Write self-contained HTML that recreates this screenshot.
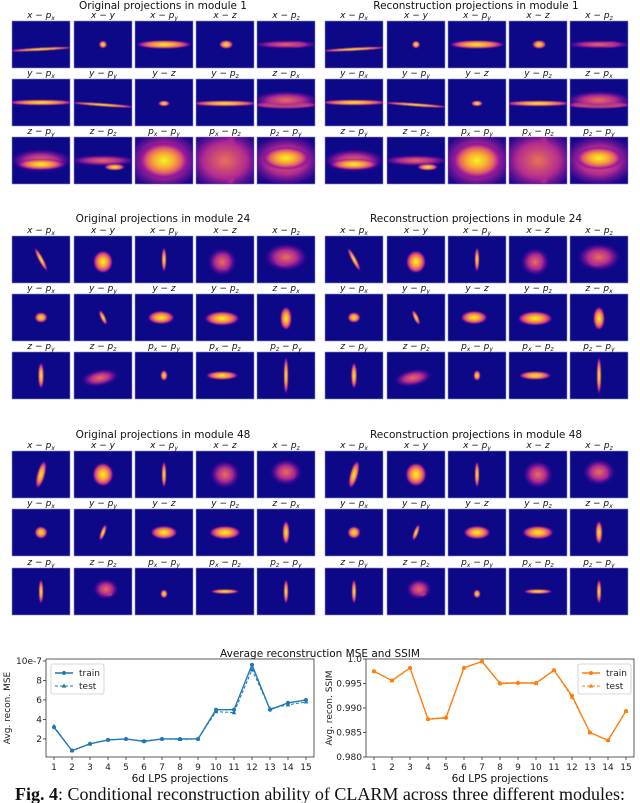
<!DOCTYPE html>
<html><head><meta charset="utf-8">
<style>
body{margin:0;background:#fff;width:640px;height:803px;overflow:hidden;font-family:"DejaVu Sans","Liberation Sans",sans-serif;}
svg{display:block}
.lbl{font-family:"DejaVu Sans",sans-serif;font-size:9px;font-style:italic;fill:#111}
.ttl{font-family:"DejaVu Sans",sans-serif;font-size:10.5px;fill:#111}
.tk{font-family:"DejaVu Sans",sans-serif;font-size:9px;fill:#222}
</style></head>
<body>
<svg id="fig" width="640" height="803" viewBox="0 0 640 803">
<defs>
<radialGradient id="pg" cx="50%" cy="50%" r="50%">
<stop offset="0" stop-color="#f0f921"/>
<stop offset="0.4" stop-color="#fca636"/>
<stop offset="0.65" stop-color="#e16462"/>
<stop offset="0.85" stop-color="#9c179e"/>
<stop offset="1" stop-color="#6a00a8" stop-opacity="0"/>
</radialGradient>
<radialGradient id="pm" cx="50%" cy="50%" r="50%">
<stop offset="0" stop-color="#e97158"/>
<stop offset="0.5" stop-color="#b12a90"/>
<stop offset="1" stop-color="#5c01a6" stop-opacity="0"/>
</radialGradient>
<filter id="bl"><feGaussianBlur stdDeviation="0.6"/></filter>
</defs>
<g id="panels"></g>
<g id="charts"></g>
<text x="320" y="800" text-anchor="middle" style="font-family:'Liberation Serif',serif;font-size:18px" fill="#111"><tspan font-weight="bold">Fig. 4</tspan>: Conditional reconstruction ability of CLARM across three different modules:</text>
</svg>
<script>
const NS="http://www.w3.org/2000/svg";
function mk(t,a,p){const e=document.createElementNS(NS,t);for(const k in a)e.setAttribute(k,a[k]);if(p)p.appendChild(e);return e;}
const labels=[["x","p","x"],["x","y",""],["x","p","y"],["x","z",""],["x","p","z"],["y","p","x"],["y","p","y"],["y","z",""],["y","p","z"],["z","p","x"],["z","p","y"],["z","p","z"],["p_x","p","y"],["p_x","p","z"],["p_z","p","y"]];
const M1=[[[.5,.6,.6,.035,-3,'pg']],[[.5,.5,.07,.08,0,'pg']],[[.5,.5,.48,.09,0,'pg']],[[.52,.5,.12,.09,0,'pg']],[[.5,.5,.6,.09,0,'pm'],[.68,.5,.2,.07,0,'pg']],
[[.5,.5,.6,.06,0,'pg']],[[.5,.55,.6,.035,4,'pg']],[[.5,.52,.1,.06,0,'pg']],[[.5,.52,.6,.06,0,'pg']],[[.5,.45,.6,.2,0,'pm'],[.5,.55,.58,.08,0,'pg']],
[[.5,.58,.42,.12,0,'pg'],[.5,.5,.55,.25,0,'pm']],[[.5,.5,.6,.12,0,'pm'],[.7,.64,.18,.07,0,'pg']],[[.5,.5,.45,.4,0,'pg'],[.5,.5,.7,.7,0,'pm']],[[.5,.5,.75,.75,0,'pm'],[.6,.5,.12,.6,0,'pg']],[[.5,.45,.42,.25,0,'pg'],[.5,.5,.7,.6,0,'pm']]];
const M24=[[[.5,.5,.04,.28,-28,'pg']],[[.5,.55,.17,.24,0,'pg']],[[.5,.5,.04,.26,0,'pg']],[[.45,.55,.25,.3,0,'pm'],[.5,.55,.1,.2,0,'pg']],[[.5,.45,.38,.3,0,'pm'],[.45,.52,.16,.14,0,'pg']],
[[.5,.5,.11,.11,0,'pg']],[[.5,.5,.04,.17,-25,'pg']],[[.45,.5,.23,.14,0,'pg']],[[.45,.52,.3,.15,0,'pg']],[[.5,.52,.1,.25,0,'pg']],
[[.5,.5,.05,.28,0,'pg']],[[.45,.55,.33,.18,-10,'pm'],[.45,.6,.16,.06,-10,'pg']],[[.5,.5,.06,.11,0,'pg']],[[.45,.5,.28,.09,0,'pg']],[[.5,.5,.04,.4,0,'pg']]];
const M48=[[[.5,.5,.07,.3,15,'pg']],[[.5,.5,.18,.25,0,'pg']],[[.5,.5,.04,.28,0,'pg']],[[.5,.5,.26,.3,0,'pm'],[.55,.5,.1,.15,0,'pg']],[[.5,.45,.28,.28,0,'pm'],[.55,.5,.13,.12,0,'pg']],
[[.5,.5,.11,.13,0,'pg']],[[.5,.5,.04,.18,20,'pg']],[[.5,.5,.23,.14,0,'pg']],[[.5,.5,.27,.14,0,'pg']],[[.5,.5,.06,.25,0,'pg']],
[[.5,.5,.04,.26,0,'pg']],[[.55,.45,.22,.22,0,'pm'],[.6,.55,.08,.05,0,'pg']],[[.5,.55,.06,.09,0,'pg']],[[.5,.5,.25,.05,0,'pg']],[[.5,.5,.04,.26,0,'pg']]];
const blocks=[{title:"module 1",ty:9,rows:[21,79,137],sh:M1},{title:"module 24",ty:222,rows:[236,294,352],sh:M24},{title:"module 48",ty:438,rows:[451,509,568],sh:M48}];
const cols=[12,74,135,196,257];const pw=58,ph=47;
const P=document.getElementById('panels');
blocks.forEach((b,bi)=>{
 [0,313].forEach((off,si)=>{
  const t=mk('text',{x:163+off,y:b.ty,'text-anchor':'middle',class:'ttl'},P);
  t.textContent=(si?"Reconstruction":"Original")+" projections in "+b.title;
  
  
  for(let i=0;i<15;i++){
   const r=Math.floor(i/5),c=i%5,x=cols[c]+off,y=b.rows[r];
   const g=mk('g',{},P);
   
   
   const cid='c'+bi+'_'+si+'_'+i;
   const cp=mk('clipPath',{id:cid},g);mk('rect',{x:x,y:y,width:pw,height:ph},cp);
   mk('rect',{x:x,y:y,width:pw,height:ph,fill:'#0d0887',stroke:'#8c8ccc','stroke-width':0.6},g);
   const inner=mk('g',{'clip-path':'url(#'+cid+')',filter:'url(#bl)'},g);
   b.sh[i].slice().reverse().forEach(s=>{
    const cx=x+s[0]*pw,cy=y+s[1]*ph;
    mk('ellipse',{cx:cx,cy:cy,rx:s[2]*pw,ry:s[3]*ph,fill:'url(#'+s[5]+')',transform:`rotate(${s[4]} ${cx} ${cy})`},inner);
   });
   const L=labels[i];const lt=mk('text',{x:x+pw/2,y:y-3,'text-anchor':'middle',class:'lbl'},g);
   const a=L[0].startsWith('p_')?'p':L[0];
   lt.innerHTML=a+(L[0].startsWith('p_')?'<tspan font-size="6" dy="2">'+L[0][2]+'</tspan><tspan dy="-2"> − </tspan>':' − ')+L[1]+(L[2]?'<tspan font-size="6" dy="2">'+L[2]+'</tspan>':'');
  }
 });
});
</script>
<script>
const projections=[1,2,3,4,5,6,7,8,9,10,11,12,13,14,15];
const mseTrain=[3.2,0.8,1.5,1.9,2.0,1.75,2.0,2.0,2.0,5.0,5.0,9.6,5.0,5.7,6.0];
const mseTest=[3.3,0.8,1.5,1.9,2.0,1.8,2.0,1.95,2.0,4.8,4.7,9.1,5.1,5.5,5.8];
const ssimTrain=[0.9975,0.9956,0.9982,0.9877,0.9880,0.9982,0.9995,0.9950,0.9951,0.9951,0.9977,0.9925,0.9850,0.9834,0.9894];
const ssimTest=[0.9975,0.9956,0.9982,0.9878,0.9881,0.9982,0.9995,0.9951,0.9952,0.9950,0.9977,0.9922,0.9850,0.9834,0.9893];
const mseTicks=[2,4,6,8,10];const mseTickLabels=["2","4","6","8","10e-7"];
const ssimTicks=[0.98,0.985,0.99,0.995,1.0];const ssimTickLabels=["0.980","0.985","0.990","0.995","1.0"];
const C=document.getElementById('charts');
function chart(o){
 const {x0,x1,y0,y1,ymin,ymax,color,tr,te,ticks,tl,ylab,legend}=o;
 const sx=v=>x0+8+(v-1)*(x1-x0-16)/14;
 const sy=v=>y1-(v-ymin)/(ymax-ymin)*(y1-y0);
 const g=mk('g',{},C);
 
 
 mk('rect',{x:x0,y:y0,width:x1-x0,height:y1-y0,fill:'none',stroke:'#333','stroke-width':0.8},g);
 ticks.forEach((t,i)=>{const y=sy(t);mk('line',{x1:x0-3,x2:x0,y1:y,y2:y,stroke:'#333','stroke-width':0.8},g);
  const e=mk('text',{x:x0-4,y:y+3,'text-anchor':'end',class:'tk'},g);e.textContent=tl[i];
  });
 projections.forEach(p=>{const x=sx(p);mk('line',{x1:x,x2:x,y1:y1,y2:y1+3,stroke:'#333','stroke-width':0.8},g);
  const e=mk('text',{x:x,y:y1+13,'text-anchor':'middle',class:'tk'},g);e.textContent=p;
  });
 const xl=mk('text',{x:(x0+x1)/2,y:y1+25,'text-anchor':'middle',class:'ttl'},g);xl.textContent="6d LPS projections";
 
 const yl=mk('text',{x:0,y:0,'text-anchor':'middle',class:'tk',transform:`translate(${x0-(o.yoff)} ${(y0+y1)/2}) rotate(-90)`},g);yl.textContent=ylab;
 
 const lt=mk('polyline',{points:te.map((v,i)=>sx(projections[i])+','+sy(v)).join(' '),fill:'none',stroke:color,'stroke-width':1,'stroke-dasharray':'3 2'},g);
 
 te.forEach((v,i)=>{const x=sx(projections[i]),y=sy(v);const m=mk('polygon',{points:`${x},${y-2.5} ${x+2.3},${y+1.6} ${x-2.3},${y+1.6}`,fill:color},g);
  });
 const ln=mk('polyline',{points:tr.map((v,i)=>sx(projections[i])+','+sy(v)).join(' '),fill:'none',stroke:color,'stroke-width':1.4},g);
 
 tr.forEach((v,i)=>{const c=mk('circle',{cx:sx(projections[i]),cy:sy(v),r:2,fill:color},g);
  });
 const lg=mk('g',{},g);
 const lx=legend[0],ly=legend[1];
 mk('rect',{x:lx,y:ly,width:53,height:30,rx:2,fill:'#fff',stroke:'#ccc','stroke-width':0.8},lg);
 mk('line',{x1:lx+4,x2:lx+22,y1:ly+9,y2:ly+9,stroke:color,'stroke-width':1.4},lg);mk('circle',{cx:lx+13,cy:ly+9,r:2,fill:color},lg);
 mk('line',{x1:lx+4,x2:lx+22,y1:ly+22,y2:ly+22,stroke:color,'stroke-width':1,'stroke-dasharray':'3 2'},lg);
 mk('polygon',{points:`${lx+13},${ly+19.5} ${lx+15.3},${ly+23.6} ${lx+10.7},${ly+23.6}`,fill:color},lg);
 const a=mk('text',{x:lx+28,y:ly+12,class:'tk'},lg);a.textContent="train";
 const b=mk('text',{x:lx+28,y:ly+25,class:'tk'},lg);b.textContent="test";
}
const tt=mk('text',{x:320,y:657,'text-anchor':'middle',class:'ttl'},C);tt.textContent="Average reconstruction MSE and SSIM";

chart({name:'mse-chart',x0:46,x1:314,y0:659,y1:757,ymin:0.15,ymax:10.2,color:'#1f77b4',tr:mseTrain,te:mseTest,ticks:mseTicks,tl:mseTickLabels,ylab:"Avg. recon. MSE",yoff:36,legend:[51,664]});
chart({name:'ssim-chart',x0:366,x1:634,y0:659,y1:757,ymin:0.98,ymax:1.0,color:'#ff7f0e',tr:ssimTrain,te:ssimTest,ticks:ssimTicks,tl:ssimTickLabels,ylab:"Avg. recon. SSIM",yoff:34,legend:[578,664]});
</script>
</body></html>
